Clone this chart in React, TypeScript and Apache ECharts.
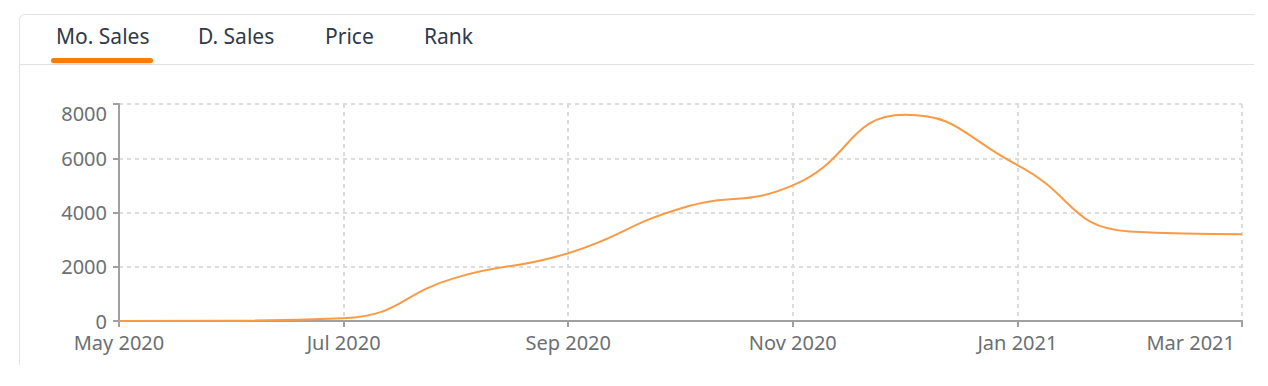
import React, { useEffect, useRef } from "react";
import * as echarts from "echarts";

const tabs = ["Mo. Sales", "D. Sales", "Price", "Rank"];
const tabLefts = [56, 198, 325, 424];
const months = [
  "May 2020", "Jun 2020", "Jul 2020", "Aug 2020", "Sep 2020", "Oct 2020",
  "Nov 2020", "Dec 2020", "Jan 2021", "Feb 2021", "Mar 2021",
];
const sales = [0, 10, 100, 1600, 2500, 4150, 5000, 7600, 5750, 3300, 3200];
const yTicks = [0, 2000, 4000, 6000, 8000];

const FONT = "'Noto Sans', sans-serif";
const LABEL_COLOR = "#6b6f73";

export default function App() {
  const ref = useRef<HTMLDivElement>(null);
  useEffect(() => {
    if (!ref.current) return;
    const chart = echarts.init(ref.current, null, { renderer: "svg" });
    chart.setOption({
      animation: false,
      grid: { left: 119, right: 26, top: 104, bottom: 65, containLabel: false },
      xAxis: {
        type: "category",
        data: months,
        boundaryGap: false,
        axisLine: { show: true, lineStyle: { color: "#a0a0a0", width: 2 } },
        axisTick: { show: true, interval: 1, length: 6, lineStyle: { color: "#a0a0a0", width: 2 } },
        axisLabel: {
          interval: 1,
          color: LABEL_COLOR,
          fontFamily: FONT,
          fontSize: 20,
          lineHeight: 20,
          margin: 11,
          alignMaxLabel: "right",
          formatter: (v: string, i: number) => (i === months.length - 1 ? `{r|${v}}` : v),
          rich: {
            r: {
              color: LABEL_COLOR,
              fontFamily: FONT,
              fontSize: 20,
              lineHeight: 20,
              padding: [0, 7, 0, 0],
            },
          },
        },
        splitLine: {
          show: true,
          interval: 1,
          lineStyle: { color: "#dcdcdc", width: 2, type: [4, 4] },
        },
      },
      yAxis: {
        type: "value",
        min: yTicks[0],
        max: yTicks[yTicks.length - 1],
        interval: 2000,
        axisLine: { show: true, lineStyle: { color: "#a0a0a0", width: 2 } },
        axisTick: { show: true, length: 6, lineStyle: { color: "#a0a0a0", width: 2 } },
        axisLabel: {
          color: LABEL_COLOR,
          fontFamily: FONT,
          fontSize: 20,
          lineHeight: 18,
          margin: 12,
          verticalAlignMaxLabel: "top",
          formatter: (v: number) => String(v),
        },
        splitLine: { show: true, lineStyle: { color: "#dcdcdc", width: 2, type: [4, 4] } },
      },
      series: [
        {
          type: "line",
          data: sales,
          smooth: true,
          showSymbol: false,
          lineStyle: { color: "#fb9a45", width: 2 },
          itemStyle: { color: "#fb9a45" },
        },
      ],
    });
    return () => chart.dispose();
  }, []);

  return (
    <div style={{ position: "fixed", left: 0, top: 0, width: 1268, height: 386, background: "#fff", fontFamily: FONT }}>
      <div
        style={{
          position: "absolute",
          left: 19,
          top: 14,
          width: 1236,
          height: 351,
          borderLeft: "1px solid #dfe3e8",
          borderTop: "1px solid #dfe3e8",
          borderTopLeftRadius: 6,
          boxSizing: "border-box",
        }}
      />
      <div style={{ position: "absolute", left: 20, top: 64, width: 1234, height: 1, background: "#dfe3e8" }} />
      {tabs.map((t, i) => (
        <div
          key={t}
          style={{
            position: "absolute",
            left: tabLefts[i],
            top: 21,
            fontSize: 21,
            lineHeight: "30px",
            color: "#2f3a48",
            whiteSpace: "nowrap",
          }}
        >
          {t}
        </div>
      ))}
      <div
        style={{
          position: "absolute",
          left: 51,
          top: 58,
          width: 102,
          height: 5,
          borderRadius: 3,
          background: "#f57d0a",
          boxShadow: "0 1px 2px rgba(0,0,0,0.15)",
        }}
      />
      <div ref={ref} style={{ position: "absolute", left: 0, top: 0, width: 1268, height: 386 }} />
    </div>
  );
}
